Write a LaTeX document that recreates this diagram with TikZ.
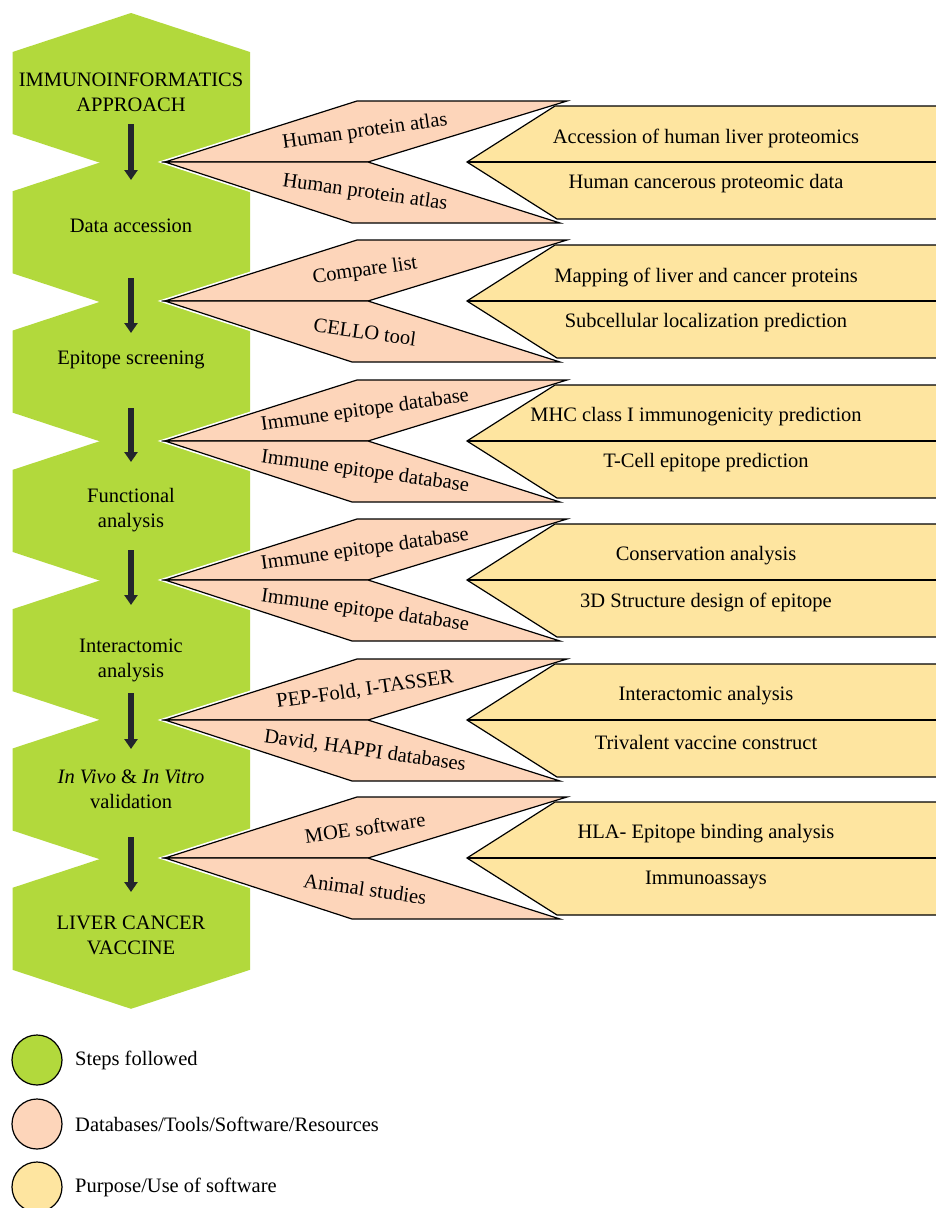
\documentclass[tikz,border=0pt]{standalone}
\usepackage{fontspec}
\setmainfont{Liberation Serif}
\usetikzlibrary{arrows.meta}
\definecolor{stepgreen}{HTML}{B2D93C}
\definecolor{toolpink}{HTML}{FDD5BA}
\definecolor{purpyellow}{HTML}{FEE5A0}
\definecolor{arrowdark}{HTML}{23252D}
\tikzset{
  lbl/.style={font=\fontsize{20.5}{25}\selectfont, align=center, inner sep=0pt, text=black},
  steparrow/.style={line width=6.5pt, draw=arrowdark, -{Triangle[width=13pt,length=10pt]}},
  pinkbox/.style={fill=toolpink, draw=black, line width=1.2pt},
  halo/.style={draw=white, line width=4.5pt},
  yellowbox/.style={fill=purpyellow, draw=black, line width=1.2pt},
  divider/.style={draw=black, line width=1.2pt},
  legendcirc/.style={circle, minimum size=50pt, draw=black, line width=1.2pt, inner sep=0pt},
  hexstep/.style={fill=stepgreen},
}
% #1 name, #2 mid y, #3 upper pink, #4 lower pink, #5 upper yellow, #6 lower yellow
\newcommand{\chevrow}[6]{%
  \draw[halo] (165,#2) -- (357,#2-61) -- (567,#2-61) -- (368,#2) -- (560,#2+61) -- (352,#2+61) -- cycle;
  \filldraw[yellowbox] (467,#2) -- (555,#2-56) -- (945,#2-56) -- (945,#2+57) -- (557,#2+57) -- cycle;
  \coordinate (#1tip) at (467,#2);
  \coordinate (#1end) at (945,#2);
  \draw[divider] (#1tip) -- (#1end);
  \filldraw[pinkbox] (165,#2) -- (357,#2-61) -- (567,#2-61) -- (368,#2) -- cycle;
  \filldraw[pinkbox] (165,#2) -- (368,#2) -- (560,#2+61) -- (352,#2+61) -- cycle;
  \node[lbl, rotate=8] (#1pu) at (365,#2-30) {#3};
  \node[lbl, rotate=-8] (#1pl) at (365,#2+31) {#4};
  \node[lbl] (#1yu) at (706,#2-24) {#5};
  \node[lbl] (#1yl) at (706,#2+22) {#6};
}
\begin{document}
\begin{tikzpicture}[x=1pt,y=-1pt]
\useasboundingbox (0,0) rectangle (936,1208);
\fill[white] (0,0) rectangle (936,1208);

% green hexagon chain
\foreach \k in {0,...,6} {
  \pgfmathsetmacro{\t}{13+139.3*\k}
  \fill[hexstep] (131,\t) -- (250,\t+39) -- (250,\t+121) -- (131,\t+160) -- (12.5,\t+121) -- (12.5,\t+39) -- cycle;
}

% step labels
\node[lbl] (s1) at (131,92) {IMMUNOINFORMATICS\\APPROACH};
\node[lbl] (s2) at (131,226) {Data accession};
\node[lbl] (s3) at (131,360) {Epitope screening};
\node[lbl] (s4) at (131,510) {Functional\\analysis};
\node[lbl] (s5) at (131,660) {Interactomic\\analysis};
\node[lbl] (s6) at (131,789) {\textit{In Vivo} \& \textit{In Vitro}\\validation};
\node[lbl] (s7) at (131,935) {LIVER CANCER\\VACCINE};

% arrows between steps
\coordinate (a1s) at (131,124); \coordinate (a1e) at (131,180);
\coordinate (a2s) at (131,278); \coordinate (a2e) at (131,333);
\coordinate (a3s) at (131,408); \coordinate (a3e) at (131,462);
\coordinate (a4s) at (131,550); \coordinate (a4e) at (131,605);
\coordinate (a5s) at (131,693); \coordinate (a5e) at (131,749);
\coordinate (a6s) at (131,837); \coordinate (a6e) at (131,892);
\foreach \i in {1,...,6} { \draw[steparrow] (a\i s) -- (a\i e); }

% rows
\chevrow{r1}{162}{Human protein atlas}{Human protein atlas}{Accession of human liver proteomics}{Human cancerous proteomic data}
\chevrow{r2}{301}{Compare list}{CELLO tool}{Mapping of liver and cancer proteins}{Subcellular localization prediction}
\chevrow{r3}{441}{Immune epitope database}{Immune epitope database}{\hspace*{-20pt}MHC class I immunogenicity prediction}{T-Cell epitope prediction}
\chevrow{r4}{580}{Immune epitope database}{Immune epitope database}{Conservation analysis}{3D Structure design of epitope}
\chevrow{r5}{720}{PEP-Fold, I-TASSER}{David, HAPPI databases}{Interactomic analysis}{Trivalent vaccine construct}
\chevrow{r6}{858}{MOE software}{Animal studies}{HLA- Epitope binding analysis}{Immunoassays}

% legend
\node[legendcirc, fill=stepgreen] (lg1) at (37,1060) {};
\node[legendcirc, fill=toolpink] (lg2) at (37,1124) {};
\node[legendcirc, fill=purpyellow] (lg3) at (37,1187) {};
\node[lbl, anchor=west] (lt1) at (75,1060) {Steps followed};
\node[lbl, anchor=west] (lt2) at (75,1124) {Databases/Tools/Software/Resources};
\node[lbl, anchor=west] (lt3) at (75,1187) {Purpose/Use of software};
\end{tikzpicture}
\end{document}
